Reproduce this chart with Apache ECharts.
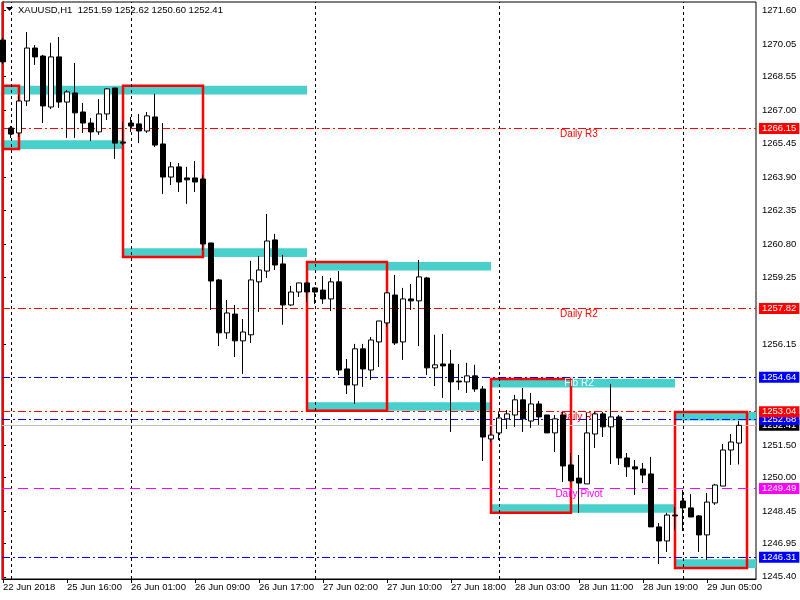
<!DOCTYPE html>
<html><head><meta charset="utf-8">
<script src="https://cdn.jsdelivr.net/npm/echarts@6/dist/echarts.min.js"></script>
<style>html,body{margin:0;padding:0;background:#fff}#c{width:800px;height:600px}</style>
</head><body><div id="c"></div>
<script>
// ---- data (XAUUSD H1) ----
const opens = [1270.24,1266.17,1265.94,1267.42,1269.87,1269.50,1267.14,1269.46,1267.37,1267.79,
1266.91,1266.40,1265.99,1266.82,1268.02,1265.52,1266.40,1266.36,1266.03,1266.68,
1265.43,1263.90,1264.37,1263.86,1263.86,1263.81,1260.85,1259.14,1256.69,1257.56,
1256.32,1256.60,1259.05,1259.55,1260.99,1259.88,1257.98,1258.58,1259.00,1258.77,
1258.67,1258.26,1259.05,1255.02,1254.28,1255.95,1254.97,1256.27,1257.15,1258.44,
1256.27,1258.26,1258.17,1259.23,1255.07,1255.25,1255.25,1254.46,1254.42,1254.70,
1254.09,1251.78,1252.06,1252.71,1252.89,1253.59,1252.61,1253.40,1252.89,1252.06,
1252.89,1250.58,1249.97,1249.70,1252.01,1252.94,1252.34,1252.80,1250.90,1250.49,
1250.39,1250.16,1247.71,1247.06,1248.26,1248.91,1248.59,1248.22,1247.34,1248.82,
1249.60,1251.27,1251.59];
const closes = [1269.23,1265.89,1267.42,1269.87,1269.46,1267.19,1269.46,1267.37,1267.84,1266.87,
1266.40,1265.99,1266.82,1267.98,1265.47,1265.47,1266.26,1266.03,1266.73,1265.38,
1263.90,1264.37,1263.67,1263.77,1263.67,1260.80,1259.09,1256.69,1257.61,1256.32,
1256.73,1259.14,1259.60,1260.94,1259.83,1257.98,1258.58,1259.00,1258.58,1258.58,
1258.26,1259.05,1254.97,1254.28,1255.95,1255.02,1256.36,1257.24,1258.54,1256.22,
1258.26,1258.17,1259.28,1255.07,1255.21,1255.16,1254.42,1254.42,1254.70,1254.09,
1251.87,1251.96,1252.75,1252.94,1253.59,1252.71,1253.40,1252.80,1252.06,1252.71,
1250.53,1249.84,1249.74,1252.06,1252.94,1252.34,1252.80,1250.90,1250.49,1250.39,
1250.11,1247.71,1247.06,1248.26,1248.22,1248.59,1248.17,1247.34,1248.86,1249.65,
1251.27,1251.64,1252.41];
const lows = [1269.13,1265.71,1265.76,1267.19,1269.09,1266.40,1267.05,1267.10,1265.71,1265.71,
1265.94,1265.57,1265.85,1266.54,1264.74,1265.38,1265.99,1265.47,1265.94,1265.29,
1263.12,1263.53,1263.21,1262.66,1263.21,1260.53,1257.75,1256.08,1256.41,1255.57,
1254.79,1256.22,1257.66,1259.23,1259.60,1257.06,1257.93,1258.35,1258.12,1258.03,
1258.03,1257.70,1254.74,1253.86,1253.40,1254.19,1254.51,1255.11,1256.96,1256.13,
1255.44,1257.75,1256.08,1254.74,1254.23,1253.68,1252.10,1254.05,1253.91,1253.96,
1250.76,1251.64,1251.73,1252.24,1252.34,1252.10,1252.29,1252.43,1252.06,1251.18,
1249.79,1249.79,1248.36,1249.70,1251.36,1251.87,1250.62,1250.58,1250.02,1249.19,
1249.74,1247.71,1245.99,1246.55,1247.57,1247.52,1248.17,1246.55,1246.18,1248.73,
1249.60,1250.58,1250.60];
const highs = [1270.34,1266.26,1267.70,1270.61,1270.01,1269.55,1270.11,1270.38,1267.93,1269.18,
1267.33,1266.63,1267.51,1268.02,1268.02,1266.45,1266.68,1266.82,1266.91,1267.75,
1266.40,1264.60,1264.55,1264.37,1264.64,1264.00,1260.85,1259.18,1258.21,1257.98,
1257.33,1260.02,1260.25,1262.19,1261.27,1260.30,1258.86,1259.00,1259.05,1258.81,
1259.32,1259.23,1259.55,1255.48,1256.18,1256.18,1256.50,1257.24,1258.58,1259.37,
1258.77,1258.95,1260.06,1259.28,1256.60,1256.64,1255.90,1255.25,1255.30,1255.21,
1254.23,1252.34,1253.03,1253.12,1253.82,1254.14,1253.91,1253.54,1252.89,1252.89,
1253.03,1251.13,1251.04,1252.98,1253.03,1253.03,1254.33,1252.89,1251.13,1250.81,
1250.67,1250.95,1247.89,1248.36,1248.63,1249.42,1249.23,1248.26,1249.28,1249.70,
1251.55,1252.01,1252.62];

// time axis labels (bar index -> text)
const timeTickBars = [0,8,16,24,32,40,48,56,64,72,80,88];
const timeTickText = ['22 Jun 2018','25 Jun 16:00','26 Jun 01:00','26 Jun 09:00','26 Jun 17:00',
  '27 Jun 02:00','27 Jun 10:00','27 Jun 18:00','28 Jun 03:00','28 Jun 11:00','28 Jun 19:00','29 Jun 05:00'];
const daySeparatorBars = [1,16,39,62,85];

// price axis labels
const priceTicks = [1271.60,1270.05,1268.55,1267.00,1265.45,1263.90,1262.35,1260.80,1259.25,
  1256.15,1251.50,1250.00,1248.45,1246.95,1245.40];

// horizontal levels (drawn in this order)
const levelValues = [1266.15,1257.82,1254.64,1249.49,1246.31,1252.41,1252.68,1253.04];
const levelKinds  = ['daily','daily','fib','pivot','fib','price','fib','daily'];
// level captions
const captionText   = ['Daily R3','Daily R2','Fib R2','Daily R1','Daily Pivot'];
const captionLevels = [1266.15,1257.82,1254.64,1253.04,1249.49];
const captionKinds  = ['daily','daily','fibtext','daily','pivot'];
const captionBar = 72;

// session boxes
const boxStart = [0,15,38,61,84];
const boxEnd   = [2,25,48,71,93];
const boxHigh  = [1268.12,1268.12,1259.97,1254.56,1253.03];
const boxLow   = [1265.20,1260.20,1253.08,1248.36,1245.81];
const zoneEnd  = [15,38,61,84,94.125];

const title = 'XAUUSD,H1  1251.59 1252.62 1250.60 1252.41';

// ---- chart ----
const FONT = "'Liberation Sans',Arial,sans-serif";
const TICK_FS = 9.5;
const X_MIN = -0.125, X_MAX = 94.125;
const ZONE_DEPTH = 0.40;
const kindStyle = {
  daily: {color:'#ff0000', type:[8,3,2,3]},
  fib:   {color:'#0000ff', type:[8,3,2,3]},
  pivot: {color:'#ff00ff', type:[10,6]},
  price: {color:'#c0c0c0', type:'solid'}
};
const boxColor = {daily:'#ff0000', fib:'#0000ff', pivot:'#ff00ff', price:'#000000'};
const captionColor = {daily:'#ff0000', pivot:'#ff00ff', fibtext:'#f0ffff'};

const candleData = opens.map((o,i)=>[i, o, closes[i], lows[i], highs[i]]);
const tickLabelMap = {};
timeTickBars.forEach((b,i)=>tickLabelMap[b]=timeTickText[i]);

const zoneAreas = [];
const boxAreas = [];
boxStart.forEach((s,i)=>{
  zoneAreas.push([{coord:[s, boxHigh[i]]},{coord:[zoneEnd[i], boxHigh[i]-ZONE_DEPTH]}]);
  zoneAreas.push([{coord:[s, boxLow[i]+ZONE_DEPTH]},{coord:[zoneEnd[i], boxLow[i]]}]);
  boxAreas.push([{coord:[s, boxHigh[i]]},{coord:[boxEnd[i], boxLow[i]]}]);
});

const levelLines = levelValues.map((v,i)=>{
  const k = levelKinds[i];
  return {
    yAxis: v,
    lineStyle:{color:kindStyle[k].color, type:kindStyle[k].type, width:1},
    label:{show:true, position:'end', distance:3, formatter: v.toFixed(2),
      backgroundColor: boxColor[k], color:'#ffffff', fontFamily:FONT, fontSize:TICK_FS,
      lineHeight:10, padding:[1,3,0,3]}
  };
});

const captions = captionText.map((t,i)=>({
  coord:[captionBar, captionLevels[i]], symbol:'rect', symbolSize:0,
  label:{show:true, position:'bottom', distance:1, formatter:t,
    color:captionColor[captionKinds[i]], fontFamily:FONT, fontSize:10}
}));

const chart = echarts.init(document.getElementById('c'), null, {renderer:'canvas'});
chart.setOption({
  animation:false,
  backgroundColor:'#ffffff',
  grid:{left:2, right:44, top:2, bottom:21, show:true, borderColor:'#000', borderWidth:1,
    backgroundColor:'#fff', containLabel:false, outerBoundsMode:'none'},
  xAxis:{
    type:'value', min:X_MIN, max:X_MAX,
    splitLine:{show:false},
    axisLine:{show:true, lineStyle:{color:'#000', width:1}},
    axisTick:{show:true, customValues:timeTickBars, length:4, lineStyle:{color:'#000'}},
    axisLabel:{show:true, customValues:timeTickBars, formatter:v=>tickLabelMap[Math.round(v)]||'',
      align:'left', margin:3, color:'#000', fontFamily:FONT, fontSize:TICK_FS, hideOverlap:false}
  },
  yAxis:{
    type:'value', position:'right', min:1245.30, max:1272.00, scale:true,
    splitLine:{show:false},
    axisLine:{show:true, lineStyle:{color:'#000', width:1}},
    axisTick:{show:true, customValues:priceTicks, length:3, lineStyle:{color:'#000'}},
    axisLabel:{show:true, customValues:priceTicks, formatter:v=>v.toFixed(2),
      margin:6, color:'#000', fontFamily:FONT, fontSize:TICK_FS}
  },
  graphic:[
    {type:'polygon', z:100, shape:{points:[[6,7],[13,7],[9.5,11]]}, style:{fill:'#000'}},
    {type:'text', z:100, left:18, top:5, style:{text:title, fill:'#000', font:"9.5px 'Liberation Sans',Arial,sans-serif"}}
  ],
  series:[
    {type:'line', data:[], z:1, silent:true,
      markLine:{silent:true, symbol:'none', label:{show:false},
        lineStyle:{color:'#000', type:[3,3], width:1},
        data:daySeparatorBars.map(b=>({xAxis:b}))}},
    {type:'line', data:[], z:2, silent:true,
      markArea:{silent:true, label:{show:false}, itemStyle:{color:'#48d1cc', borderWidth:0}, data:zoneAreas}},
    {type:'line', data:[], z:3, silent:true,
      markArea:{silent:true, label:{show:false}, itemStyle:{color:'rgba(0,0,0,0)', borderColor:'#ff0000', borderWidth:2.5}, data:boxAreas},
      markLine:{silent:true, symbol:'none', label:{show:false}, lineStyle:{color:'#ff0000', type:'solid', width:2},
        data:[{xAxis:-0.07}]}},
    {type:'line', data:[], z:4, silent:true,
      markLine:{silent:true, symbol:'none', data:levelLines},
      markPoint:{silent:true, data:captions}},
    {type:'candlestick', z:10, silent:true, barWidth:5, encode:{x:0, y:[1,2,3,4]},
      itemStyle:{color:'#ffffff', color0:'#000000', borderColor:'#000000', borderColor0:'#000000', borderWidth:1},
      data:candleData}
  ]
});
</script></body></html>
